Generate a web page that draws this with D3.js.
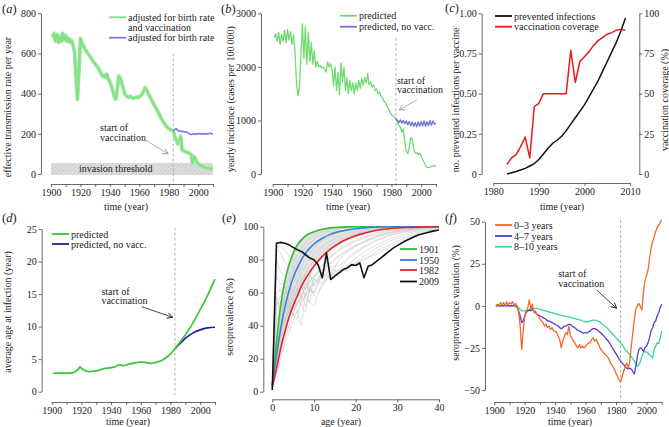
<!DOCTYPE html>
<html>
<head>
<meta charset="utf-8">
<script src="https://cdn.jsdelivr.net/npm/d3@7"></script>
<style>
  body { margin: 0; background: #fff; }
  svg text { font-family: "Liberation Serif", "DejaVu Serif", serif; font-size: 10px; fill: #222; }
</style>
</head>
<body>
<svg id="fig" width="669" height="427"></svg>
<script>
// ---- data ----
// (a) effective transmission rate, yearly from 1901
const aStart = 1901;
const aGreen = [680,700,662,695,655,685,660,700,668,690,660,675,655,665,640,605,470,372,520,675,
  650,640,622,612,600,590,580,568,555,548,538,528,515,500,487,492,480,497,472,458,
  440,412,385,372,420,488,478,455,428,400,390,384,380,386,380,377,381,383,380,386,
  390,400,414,430,420,402,386,372,357,345,332,318,305,290,276,263,251,241,232,226,
  221,218,215,190,170,150,160,187,120,115,112,108,106,103,98,55,88,75,60,50,
  45,40,36,33,31,29,28,27,26,25];
const aBlueStart = 1983;
const aBlue = [215,222,226,218,212,215,210,213,208,210,205,200,196,198,200,197,201,199,202,198,201,199,202,198,201,203,200,199];
const threshold = [-5, 55];

// (b) yearly incidence (cases per 100 000), yearly from 1901
const bStart = 1901;
const bGreen = [2550,2620,2480,2640,2420,2600,2480,2680,2450,2700,2500,2660,2420,2600,2300,1700,1460,1620,2200,2800,
  2150,2750,2050,2650,2100,2450,2050,2300,2000,2100,2000,2030,1980,2000,1960,1900,2100,2000,2060,1950,
  1650,2000,1560,1900,1480,2080,1720,2000,1560,1800,1500,1750,1560,1700,1500,1700,1560,1750,1600,1780,
  1660,1800,1700,1880,1660,1720,1620,1660,1560,1590,1500,1530,1450,1420,1360,1330,1260,1220,1160,1110,
  1080,1060,1040,960,900,880,780,840,600,420,380,500,680,640,460,390,395,360,385,340,
  270,220,160,125,120,130,140,150,155,150];
const bBlueStart = 1983;
const bBlue = [1040,1000,960,1010,950,1000,940,990,920,980,900,970,890,960,880,970,890,980,900,990,890,980,900,1000,910,990,930,950];

// (c) prevented infections per vaccine and vaccination coverage
const cYears = [1983,1984,1985,1986,1987,1988,1989,1990,1991,1992,1993,1994,1995,1996,1997,1998,1999,2000,2001,2002,2003,2004,2005,2006,2007,2008,2009];
const cPrevented = [0,0.008,0.016,0.025,0.035,0.05,0.065,0.09,0.125,0.16,0.19,0.21,0.235,0.27,0.31,0.35,0.39,0.43,0.48,0.53,0.58,0.64,0.70,0.76,0.82,0.89,0.97];
const cCoverage = [6,10,12,17,23,10,42,44,50,50,50,50,50,50,77,57,70,73,76,80,83,85,87,88,89.5,90,89.5];

// (d) average age at infection
const dYears = [1901,1905,1910,1914,1916,1918,1919,1920,1922,1925,1930,1935,1940,1943,1945,1946,1948,1950,1955,1960,1963,1967,1970,1975,1980,1983,1986,1990,1995,2000,2005,2010];
const dGreen = [2.85,2.85,2.85,2.9,3.1,3.5,3.8,3.6,3.3,3.1,3.2,3.55,3.7,3.85,4.1,4.15,4.0,4.1,4.4,4.55,4.5,4.35,4.5,4.9,5.8,6.6,7.5,8.7,10.5,12.6,14.8,17.3];
const dBlueYears = [1983,1986,1990,1995,2000,2005,2010];
const dBlue = [6.6,7.3,8.2,9.0,9.5,9.8,9.9];

// (e) seroprevalence by age
const eAges = [0,1,2,3,4,5,6,7,8,9,10,12,14,16,18,20,22,25,28,32,36,40];
const e1901 = [4,30,52,67,77,84,89,92,94.5,96,97,98.5,99.3,99.7,99.9,100,100,100,100,100,100,100];
const e1950 = [4,22,38,51,61,69,75,80,84,87,89.5,93,95.5,97,98,98.8,99.3,99.7,100,100,100,100];
const e1982 = [3,14,26,36,45,52,58,64,68.5,72.5,76,82,86.5,90,92.5,94.5,96,97.8,98.8,99.5,99.8,100];
const e2009Ages = [0,1,2,3,4,5,6,7,8,9,10,11,12,13,14,15,16,17,18,19,20,21,22,23,24,25,26,27,28,29,30,32,35,38,40];
const e2009 = [1,90,90.5,90,89,87.5,86,85,83,81,80,77,69,84,68,70,72,74,75,77,76.5,78,69,76,77,79,81,83,85,87,88.5,91.5,95,97,98];
const eSmooth = [
  [4,29,50,64,75,82,87,91,93.5,95,96.5,98.2,99,99.6,99.8,100,100,100,100,100,100,100],
  [4,26,45,59,69,77,83,87,90.5,93,94.5,97,98.5,99.2,99.6,99.8,100,100,100,100,100,100],
  [4,24,41,55,65,73,79,84,87.5,90,92.5,95.5,97.5,98.5,99.2,99.6,99.8,100,100,100,100,100],
  [4,20,35,47,57,65,71,76,80.5,84,87,91.5,94.5,96.5,97.8,98.6,99.1,99.6,99.8,100,100,100],
  [3,18,32,43,52,60,66.5,72,76.5,80,83,88,91.5,94,95.8,97,98,99,99.5,99.8,100,100],
  [3,16,29,40,49,56,62,67.5,72,76,79.5,85,89,92,94.2,95.8,97,98.3,99,99.6,99.8,100],
  [3,12,23,32,40,47,53,58,62.5,66.5,70,76.5,81.5,85.5,88.5,91,93,95.5,97.2,98.6,99.4,99.8],
  [3,10,20,29,36,43,49,54,58.5,62.5,66,72.5,78,82.5,86,88.8,91,94,96,97.8,98.9,99.5]
];
const eJagged = [
  [3,40,55,50,62,58,68,64,72,70,76,81,86,89.5,92,94,95.5,97.3,98.5,99.3,99.7,100],
  [3,45,42,56,50,60,57,66,62,70,68,77,82,86.5,89.5,92,94,96.3,97.8,99,99.6,100],
  [4,55,48,42,54,46,44,58,52,62,60,70,70,80,85,88.5,91,94.5,96.5,98.3,99.2,99.7],
  [4,60,62,50,44,56,48,40,60,54,52,66,75,73,80,84,87.5,91.5,94.5,97,98.5,99.3],
  [4,70,65,66,52,46,60,52,48,64,58,64,72,70,77,81,84.5,89,92.5,96,97.8,98.8],
  [3,80,72,70,72,58,52,64,56,54,68,66,70,74,73,78,82,87,91,94.8,97.2,98.5],
  [2,86,84,78,76,76,64,58,70,62,60,72,70,72,75,77,80,85,89,93.5,96.5,98.2],
  [2,88,88,86,82,80,78,68,62,72,64,70,74,72,76,78,80,83.5,87.5,92.5,96,98],
  [3,52,58,54,48,56,62,56,66,60,70,74,78,82,85,88,90.5,93.5,96,98,99,99.6],
  [3,58,50,60,56,50,58,64,58,68,64,72,76,76,81,85,88,92,94.8,97.3,98.7,99.4]
];

// (f) seroprevalence variation, yearly from 1901
const fStart = 1901;
const f0to3 = [0,1,0,2,0.5,2,0,2.5,0.5,2,1,2.5,0,1.5,-1,-4,-12,-26,-15,-6,
  -3,-1,3.5,-2,1,-4,-3,-5,-6,-8,-9,-10,-12,-11,-13,-12,-14,-13,-15,-15,
  -16,-18,-20,-25,-21,-18,-16,-17,-12,-18,-19,-21,-22,-24,-25,-23,-25,-24,-25,-24,
  -23,-22,-22,-20,-19,-21,-20,-22,-24,-26,-27,-28,-29,-30,-31,-33,-35,-36,-38,-40,
  -42,-44,-45,-42,-39,-36,-34,-37,-33,-24,-16,-8,-2,0,1.5,-0.5,-2.5,8,15,18,
  21,28,34,38,41,44,46.5,48,49.5,51];
const f4to7 = [0,0,0.3,0,0.3,0,0.3,0,0.3,0,0.2,0,0.2,0,-1,-3,-6,-10,-9,-6,
  -4,-3,-2.5,-3,-2,-3,-4,-5,-5.5,-6,-6.5,-7,-7.5,-8,-9,-9,-9.5,-10,-10.5,-11,
  -11.5,-12,-13,-13.5,-13,-12,-12,-11.5,-11,-11,-12,-12.5,-13,-14,-14.5,-15,-15.5,-16,-16,-16,
  -16,-15.5,-15,-14,-13.5,-13.5,-14,-14.5,-15.5,-16,-17,-18,-19,-20,-21,-22.5,-24,-25.5,-27,-28.5,
  -30,-31.5,-33,-34,-35,-36,-37,-37.5,-37,-37.5,-39,-40.5,-36,-30,-26,-25,-25.5,-27,-25,-24,
  -22,-19,-15,-13,-10,-9,-6,-4,-1,1];
const f8to10 = [0,0,0,0,0,0,0,0,0,0,0,0,0,0,0,-1,-2,-3,-3,-3,
  -3,-2.5,-2,-2,-1.5,-1.5,-1.5,-1.5,-2,-2,-2.5,-2.5,-3,-3,-3.5,-3.5,-4,-4,-4.5,-4.5,
  -5,-5,-5.5,-5.5,-6,-6,-6.2,-6.5,-6.5,-7,-7,-7.3,-7.5,-8,-8,-8.3,-8.5,-9,-9.3,-9.5,
  -9.5,-9.2,-9,-8.6,-8.5,-8.5,-8.6,-9,-9.5,-10,-10.8,-11.5,-12.3,-13,-14,-15,-16,-17,-18,-19,
  -20,-21,-22,-23,-24.5,-26,-27,-28,-29,-30,-31.5,-33,-34.5,-36,-35,-33,-30,-28,-27,-27.5,
  -28,-29,-30,-31,-26,-24,-22,-22.5,-19,-15];

const vaccYear = 1983;

// ---- helpers ----
const svg = d3.select("#fig");

const defs = svg.append("defs");
const hatch = defs.append("pattern").attr("id", "hatch").attr("width", 3).attr("height", 3)
  .attr("patternUnits", "userSpaceOnUse").attr("patternTransform", "rotate(45)");
hatch.append("rect").attr("width", 3).attr("height", 3).attr("fill", "#dedede");
hatch.append("line").attr("x1", 0).attr("y1", 0).attr("x2", 0).attr("y2", 3).attr("stroke", "#a8a8a8").attr("stroke-width", 0.7);

["#999", "#111"].forEach((c, i) => {
  defs.append("marker").attr("id", "arr" + i).attr("viewBox", "0 0 10 10")
    .attr("refX", 9).attr("refY", 5).attr("markerWidth", 7).attr("markerHeight", 7)
    .attr("markerUnits", "userSpaceOnUse").attr("orient", "auto")
    .append("path").attr("d", "M1,1L9,5L1,9").attr("fill", "none").attr("stroke", c).attr("stroke-width", 1.2);
});

function styleAxis(g) {
  g.selectAll("path,line").attr("stroke", "#444").attr("stroke-width", 0.8);
}
function bottomAxis(x, y, ticks, fmt) {
  svg.append("g").attr("transform", `translate(0,${y})`)
    .call(d3.axisBottom(x).tickValues(ticks).tickSize(3).tickSizeOuter(0).tickPadding(1.5).tickFormat(fmt))
    .call(styleAxis);
}
function leftAxis(y, x, ticks, fmt) {
  svg.append("g").attr("transform", `translate(${x},0)`)
    .call(d3.axisLeft(y).tickValues(ticks).tickSize(3).tickSizeOuter(0).tickPadding(2).tickFormat(fmt))
    .call(styleAxis);
}
function rightAxis(y, x, ticks, fmt) {
  svg.append("g").attr("transform", `translate(${x},0)`)
    .call(d3.axisRight(y).tickValues(ticks).tickSize(3).tickSizeOuter(0).tickPadding(2).tickFormat(fmt))
    .call(styleAxis);
}
const every20 = d => d % 20 ? "" : d;
const decades = d3.range(1900, 2011, 10);

function line(xs, ys, x, y, color, w, curve) {
  svg.append("path").datum(xs.map((d, i) => [d, ys[i]]))
    .attr("fill", "none").attr("stroke", color).attr("stroke-width", w)
    .attr("stroke-linejoin", "round")
    .attr("d", d3.line().x(d => x(d[0])).y(d => y(d[1])).curve(curve || d3.curveLinear));
}
const yrs = (start, arr) => arr.map((d, i) => start + i);

function panelLetter(x, y, l) {
  const t = svg.append("text").attr("x", x).attr("y", y).style("font-size", "12.5px");
  t.append("tspan").text("(");
  t.append("tspan").style("font-style", "italic").text(l);
  t.append("tspan").text(")");
}
function yTitle(x, y, txt) {
  svg.append("text").attr("transform", `translate(${x},${y}) rotate(-90)`)
    .attr("text-anchor", "middle").text(txt);
}
function xTitle(x, y, txt) {
  svg.append("text").attr("x", x).attr("y", y).attr("text-anchor", "middle").text(txt);
}
function legend(x, y, color, label, w) {
  svg.append("line").attr("x1", x).attr("x2", x + 17).attr("y1", y).attr("y2", y)
    .attr("stroke", color).attr("stroke-width", w || 1.8);
  svg.append("text").attr("x", x + 19).attr("y", y + 3.5).text(label);
}
function vaccLine(x, y, top, bottom) {
  svg.append("line").attr("x1", x(vaccYear)).attr("x2", x(vaccYear))
    .attr("y1", y(top)).attr("y2", y(bottom))
    .attr("stroke", "#aaa").attr("stroke-width", 0.9).attr("stroke-dasharray", "3,2");
}
function vaccNote(x, y, tx, ty1, ty2, from, to, black) {
  svg.append("text").attr("x", x(tx)).attr("y", y(ty1)).text("start of");
  svg.append("text").attr("x", x(tx)).attr("y", y(ty2)).text("vaccination");
  svg.append("line").attr("x1", x(from[0])).attr("y1", y(from[1]))
    .attr("x2", x(to[0])).attr("y2", y(to[1]))
    .attr("stroke", black ? "#111" : "#999").attr("stroke-width", 0.8)
    .attr("marker-end", `url(#arr${black ? 1 : 0})`);
}

// ---- (a) ----
{
  const x = d3.scaleLinear().domain([1900, 2010]).range([51, 213]);
  const y = d3.scaleLinear().domain([0, 800]).range([174, 13.3]);
  svg.append("rect").attr("x", x(1900)).attr("width", x(2010) - x(1900))
    .attr("y", y(threshold[1])).attr("height", y(threshold[0]) - y(threshold[1]))
    .attr("fill", "url(#hatch)");
  svg.append("text").attr("x", x(1944)).attr("y", y(25) + 3.5).attr("text-anchor", "middle").text("invasion threshold");
  vaccLine(x, y, 600, -55);
  line(yrs(aStart, aGreen), aGreen, x, y, "#98e898", 3.8);
  line(yrs(aStart, aGreen), aGreen, x, y, "#72d872", 0.8);
  line(yrs(aBlueStart, aBlue), aBlue, x, y, "#7b7be6", 1.6);
  vaccNote(x, y, 1933.3, 212, 164, [1963.2, 173], [1979.6, 100], false);
  leftAxis(y, 41, [0, 200, 400, 600, 800], d3.format("d"));
  bottomAxis(x, 184, decades, every20);
  yTitle(11, 107, "effective transmission rate per year");
  xTitle(126, 209.5, "time (year)");
  legend(109, 17.3, "#7fe07f", "adjusted for birth rate");
  svg.append("text").attr("x", 128).attr("y", 30.5).text("and vaccination");
  legend(109, 37.7, "#7b7be6", "adjusted for birth rate");
  panelLetter(2, 13, "a");
}

// ---- (b) ----
{
  const x = d3.scaleLinear().domain([1900, 2010]).range([272.7, 436]);
  const y = d3.scaleLinear().domain([0, 3000]).range([174, 13.3]);
  vaccLine(x, y, 2540, -240);
  line(yrs(bStart, bGreen), bGreen, x, y, "#6fdb6f", 1.3);
  line(yrs(bBlueStart, bBlue), bBlue, x, y, "#6f6fe0", 1.3);
  vaccNote(x, y, 1983.7, 1689, 1512, [1997, 1381], [1985.1, 1195], false);
  leftAxis(y, 261, [0, 1000, 2000, 3000], d3.format("d"));
  bottomAxis(x, 184, decades, every20);
  yTitle(234, 99, "yearly incidence (cases per 100\u2009000)");
  xTitle(348, 209.5, "time (year)");
  legend(340, 15.7, "#6fdb6f", "predicted");
  legend(340, 26.7, "#6f6fe0", "predicted, no vacc.");
  panelLetter(221, 13, "b");
}

// ---- (c) ----
{
  const x = d3.scaleLinear().domain([1980, 2010]).range([493.3, 630]);
  const yL = d3.scaleLinear().domain([0, 1]).range([174, 13.3]);
  const yR = d3.scaleLinear().domain([0, 100]).range([174, 13.3]);
  line(cYears, cCoverage, x, yR, "#e8191c", 1.5);
  line(cYears, cPrevented, x, yL, "#111", 1.5);
  leftAxis(yL, 481.7, [0, 0.25, 0.5, 0.75, 1], d => d === 0 ? "0" : d3.format(".2f")(d));
  rightAxis(yR, 639.3, [0, 25, 50, 75, 100], d3.format("d"));
  bottomAxis(x, 183, [1980, 1990, 2000, 2010], d3.format("d"));
  yTitle(459, 100, "no. prevented infections per vaccine");
  yTitle(668, 100, "vaccination coverage (%)");
  xTitle(562, 209.5, "time (year)");
  legend(495, 16, "#111", "prevented infections");
  legend(495, 26.7, "#e8191c", "vaccination coverage");
  panelLetter(445, 12, "c");
}

// ---- (d) ----
{
  const x = d3.scaleLinear().domain([1900, 2010]).range([51.7, 215]);
  const y = d3.scaleLinear().domain([0, 25]).range([391.7, 229]);
  vaccLine(x, y, 25.2, -0.5);
  line(dBlueYears, dBlue, x, y, "#1f1f9e", 1.7, d3.curveMonotoneX);
  line(dYears, dGreen, x, y, "#35c935", 1.7, d3.curveMonotoneX);
  vaccNote(x, y, 1933.5, 14.86, 13.4, [1960.6, 13.06], [1981.5, 11.43], true);
  leftAxis(y, 41.7, [0, 5, 10, 15, 20, 25], d3.format("d"));
  bottomAxis(x, 402, decades, every20);
  yTitle(11, 312, "average age at infection (year)");
  xTitle(128, 425, "time (year)");
  legend(52, 234, "#35c935", "predicted");
  legend(52, 244, "#1f1f9e", "predicted, no vacc.");
  panelLetter(2, 222, "d");
}

// ---- (e) ----
{
  const x = d3.scaleLinear().domain([0, 40]).range([272.3, 439]);
  const y = d3.scaleLinear().domain([0, 100]).range([391.7, 226.7]);
  svg.append("path").datum(eAges.map((a, i) => [a, e1982[i], e1901[i]]))
    .attr("fill", "#e4e4e4")
    .attr("d", d3.area().x(d => x(d[0])).y0(d => y(d[1])).y1(d => y(d[2])).curve(d3.curveMonotoneX));
  eSmooth.forEach(vals => line(eAges, vals, x, y, "#c6c6c6", 0.6, d3.curveMonotoneX));
  eJagged.forEach(vals => line(eAges, vals, x, y, "#c9c9c9", 0.6));
  line(eAges, e1901, x, y, "#2fc12f", 1.6, d3.curveMonotoneX);
  line(eAges, e1950, x, y, "#3b82d6", 1.6, d3.curveMonotoneX);
  line(eAges, e1982, x, y, "#e32626", 1.6, d3.curveMonotoneX);
  line(e2009Ages, e2009, x, y, "#111", 1.6);
  leftAxis(y, 263.3, [0, 20, 40, 60, 80, 100], d3.format("d"));
  bottomAxis(x, 399.3, [0, 10, 20, 30, 40], d3.format("d"));
  yTitle(233, 317, "seroprevalence (%)");
  xTitle(341, 425, "age (year)");
  legend(400, 249, "#2fc12f", "1901");
  legend(400, 260, "#3b82d6", "1950");
  legend(400, 270, "#e32626", "1982");
  legend(400, 281.5, "#111", "2009");
  panelLetter(222, 222, "e");
}

// ---- (f) ----
{
  const x = d3.scaleLinear().domain([1900, 2010]).range([494.3, 661.7]);
  const y = d3.scaleLinear().domain([-50, 50]).range([390, 221.7]);
  vaccLine(x, y, 51, -55);
  line(yrs(fStart, f8to10), f8to10, x, y, "#3fd0a0", 1.3);
  line(yrs(fStart, f4to7), f4to7, x, y, "#5a3ad6", 1.3);
  line(yrs(fStart, f0to3), f0to3, x, y, "#ee6a2a", 1.3);
  vaccNote(x, y, 1942, 17.1, 11.2, [1967.3, 9.4], [1980.4, -1.5], true);
  leftAxis(y, 485, [-50, -25, 0, 25, 50], d3.format("d"));
  bottomAxis(x, 402, decades, every20);
  yTitle(459, 303, "seroprevalence variation (%)");
  xTitle(570, 425, "time (year)");
  legend(495, 225, "#ee6a2a", "0\u20133 years");
  legend(495, 236, "#5a3ad6", "4\u20137 years");
  legend(495, 246.7, "#3fd0a0", "8\u201310 years");
  panelLetter(445, 222, "f");
}
</script>
</body>
</html>
